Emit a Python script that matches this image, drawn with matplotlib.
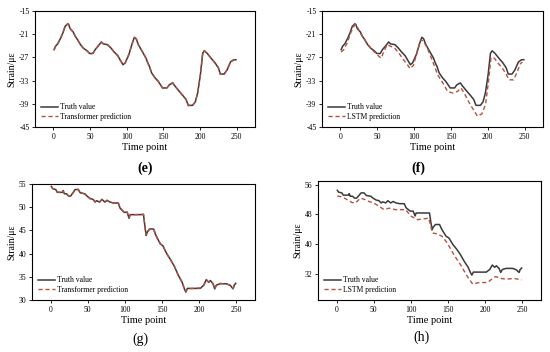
import matplotlib
matplotlib.use("Agg")
import matplotlib.pyplot as plt

plt.rcParams['font.family'] = ['Liberation Serif', 'DejaVu Serif']
plt.rcParams['axes.unicode_minus'] = False

# ---- data: panels (e)/(f) ----
t_ef = [1, 3, 6, 10, 13, 16, 19.5, 21, 23, 27, 30, 33, 37, 41, 46, 49.6, 54, 57, 61, 65.5,
        68, 74, 78.7, 83, 88, 91, 95, 98, 103, 107, 110.5, 113, 116, 121, 126.4, 128.7, 131,
        134, 138.7, 143, 149, 155, 158, 162.8, 165, 169.6, 176.4, 181, 184, 190, 193.6,
        196.8, 200.5, 203.7, 206, 209.6, 215, 220.5, 225, 227.8, 233, 237, 241.5, 246, 249]
truth_ef = [-25.0, -24.1, -23.5, -22.0, -20.7, -19.0, -18.3, -18.5, -19.6, -20.4, -21.6, -22.4,
            -23.7, -24.6, -25.3, -26.0, -26.0, -25.0, -24.1, -23.0, -23.5, -23.7, -24.6, -25.6,
            -26.6, -27.6, -28.9, -28.4, -26.3, -23.7, -21.8, -22.2, -23.7, -25.4, -27.2, -28.4,
            -29.3, -31.0, -32.3, -33.2, -34.9, -34.9, -34.1, -33.6, -34.2, -35.3, -36.8, -37.9,
            -39.4, -39.4, -38.5, -36.2, -31.5, -25.9, -25.3, -25.9, -27.2, -28.4, -29.7, -31.3,
            -31.3, -30.2, -28.2, -27.6, -27.6]
transformer_ef = [-25.1, -24.2, -23.4, -22.1, -20.6, -19.1, -18.4, -18.5, -19.5, -20.5, -21.5,
                  -22.5, -23.6, -24.7, -25.2, -26.1, -25.9, -25.1, -24.0, -23.1, -23.4, -23.8,
                  -24.5, -25.7, -26.5, -27.7, -28.8, -28.5, -26.2, -23.8, -21.9, -22.1, -23.8,
                  -25.3, -27.3, -28.3, -29.4, -30.9, -32.4, -33.1, -35.0, -34.8, -34.2, -33.5,
                  -34.3, -35.2, -36.9, -37.8, -39.5, -39.3, -38.6, -36.1, -31.7, -26.0, -25.2,
                  -26.0, -27.1, -28.5, -29.6, -31.4, -31.2, -30.3, -28.1, -27.7, -27.5]
t_lstm_ef = [1, 4.5, 9, 14.5, 19.5, 22.7, 27, 34, 41, 47.7, 52, 55.5, 59, 63.6, 68, 73.6, 79.5,
             85.5, 91, 94.5, 99, 104.5, 109, 112.7, 118, 125, 132, 139, 145.5, 152, 159, 163.6,
             168, 175, 181.8, 186, 192, 197, 201, 204.5, 209, 213.6, 219.5, 225, 228.6, 235,
             239.5, 244, 247]
lstm_ef = [-25.6, -25.0, -23.3, -20.4, -18.5, -19.0, -20.7, -22.8, -24.6, -25.9, -26.7, -27.2,
           -25.4, -23.7, -24.1, -24.6, -25.9, -27.6, -28.9, -29.9, -29.1, -25.4, -22.4, -22.8,
           -24.6, -27.9, -31.5, -33.6, -35.8, -36.2, -35.8, -34.9, -36.2, -38.8, -40.9, -42.2,
           -41.6, -39.2, -33.2, -27.0, -27.2, -28.4, -29.7, -31.3, -32.8, -32.8, -31.0, -28.7,
           -28.2]

# ---- data: panels (g)/(h) ----
t_gh = [1, 2.7, 7, 9, 16, 17, 18.4, 21.6, 24, 27, 30, 33, 37, 40, 46, 49, 53, 57, 60, 62, 66,
        69, 73, 76, 80, 85, 91, 93.5, 99, 103, 105.6, 107, 125, 127, 128.6, 130, 133, 138.5,
        141, 144, 147.5, 151, 156.5, 161, 166, 172, 177, 180, 182, 184, 201.4, 206, 209.5,
        212.7, 215, 218.5, 220.8, 223, 228, 237, 242, 245.5, 247, 249]
truth_gh = [54.5, 54.0, 53.8, 53.2, 53.2, 53.6, 52.9, 52.9, 52.4, 52.4, 53.1, 53.8, 53.8, 53.1,
            52.9, 52.4, 51.9, 51.7, 51.1, 51.4, 51.1, 51.7, 51.1, 51.5, 51.1, 50.9, 50.9, 49.8,
            48.9, 48.9, 47.6, 48.4, 48.4, 45.7, 43.9, 44.6, 45.3, 45.3, 44.2, 43.2, 42.1, 41.7,
            39.9, 38.8, 37.4, 35.3, 33.8, 32.4, 31.7, 32.5, 32.5, 33.2, 34.4, 33.8, 34.2, 33.5,
            32.4, 33.2, 33.5, 33.5, 33.1, 32.4, 33.2, 33.6]
transformer_gh = [54.4, 54.1, 53.7, 53.3, 53.1, 53.5, 53.0, 52.8, 52.5, 52.3, 53.0, 53.7, 53.9,
                  53.2, 52.8, 52.5, 51.8, 51.8, 51.2, 51.3, 51.2, 51.6, 51.2, 51.4, 51.2, 50.8,
                  51.0, 49.9, 48.8, 49.0, 47.8, 48.3, 48.5, 45.9, 44.0, 44.5, 45.2, 45.4, 44.3,
                  43.1, 42.2, 41.6, 40.0, 38.7, 37.5, 35.2, 33.9, 32.3, 31.8, 32.4, 32.6, 33.1,
                  34.3, 33.9, 34.1, 33.6, 32.5, 33.1, 33.6, 33.4, 33.2, 32.5, 33.1, 33.5]
t_lstm_gh = [1, 7.6, 14, 21, 25.6, 32, 37, 43.5, 50, 57, 64, 70.5, 79, 93, 99.6, 108.6, 124,
             129, 135.5, 142, 149, 158, 167, 176, 183, 192, 203, 210, 214, 221, 228, 239, 249]
lstm_gh = [53.0, 52.7, 52.0, 51.2, 51.1, 52.4, 52.1, 51.5, 51.1, 50.2, 49.3, 49.7, 49.3, 49.3,
           47.6, 46.6, 47.0, 43.0, 42.8, 42.1, 40.3, 37.1, 34.4, 31.3, 29.3, 29.7, 29.7, 30.8,
           31.3, 30.8, 30.6, 30.8, 30.4]

xticks = [0, 50, 100, 150, 200, 250]
truth_color = '#3a3a3a'
pred_color = '#b9503f'

W, H = 550, 352
fig = plt.figure(figsize=(5.5, 3.52), dpi=100)


def make_ax(l, r, top, bot):
    return fig.add_axes([l / W, 1 - bot / H, (r - l) / W, (bot - top) / H])


panels = [
    # (pixel box, ylim, yticks, truth, pred, pred name, label, label pos, bold)
    ((35, 255, 11, 127), (-45, -15), [-45, -39, -33, -27, -21, -15],
     (t_ef, truth_ef), (t_ef, transformer_ef), 'Transformer prediction', '(e)', (145, 168), True),
    ((322, 543, 11, 127), (-45, -15), [-45, -39, -33, -27, -21, -15],
     (t_ef, truth_ef), (t_lstm_ef, lstm_ef), 'LSTM prediction', '(f)', (418, 168), True),
    ((32, 255, 184, 300), (30, 55), [30, 35, 40, 45, 50, 55],
     (t_gh, truth_gh), (t_gh, transformer_gh), 'Transformer prediction', '(g)', (140, 339), False),
    ((318, 541, 181, 300), (25, 57), [32, 40, 48, 56],
     (t_gh, truth_gh), (t_lstm_gh, lstm_gh), 'LSTM prediction', '(h)', (421, 337), False),
]

for box, ylim, yt, tr, pr, pname, lab, lpos, bold in panels:
    ax = make_ax(*box)
    ax.plot(tr[0], tr[1], color=truth_color, lw=1.1, label='Truth value')
    ax.plot(pr[0], pr[1], color=pred_color, lw=1.0, ls=(0, (3, 2)), label=pname)
    ax.set_xlim(-25, 275)
    ax.set_ylim(*ylim)
    ax.set_xticks(xticks)
    ax.set_yticks(yt)
    ax.tick_params(direction='out', length=2, width=0.6, labelsize=5.5, pad=2)
    for s in ax.spines.values():
        s.set_linewidth(0.8)
    ax.set_xlabel('Time point', fontsize=7.5, labelpad=2)
    ax.set_ylabel('Strain/με', fontsize=7, labelpad=2)
    ax.legend(loc='lower left', frameon=False, fontsize=5.5, handlelength=2.2,
              handletextpad=0.3, labelspacing=0.2, borderaxespad=0.4)
    fig.text(lpos[0] / W, 1 - lpos[1] / H, lab, ha='center', va='center', fontsize=10,
             fontweight='bold' if bold else 'normal')

fig.savefig('out.png', dpi=100)
